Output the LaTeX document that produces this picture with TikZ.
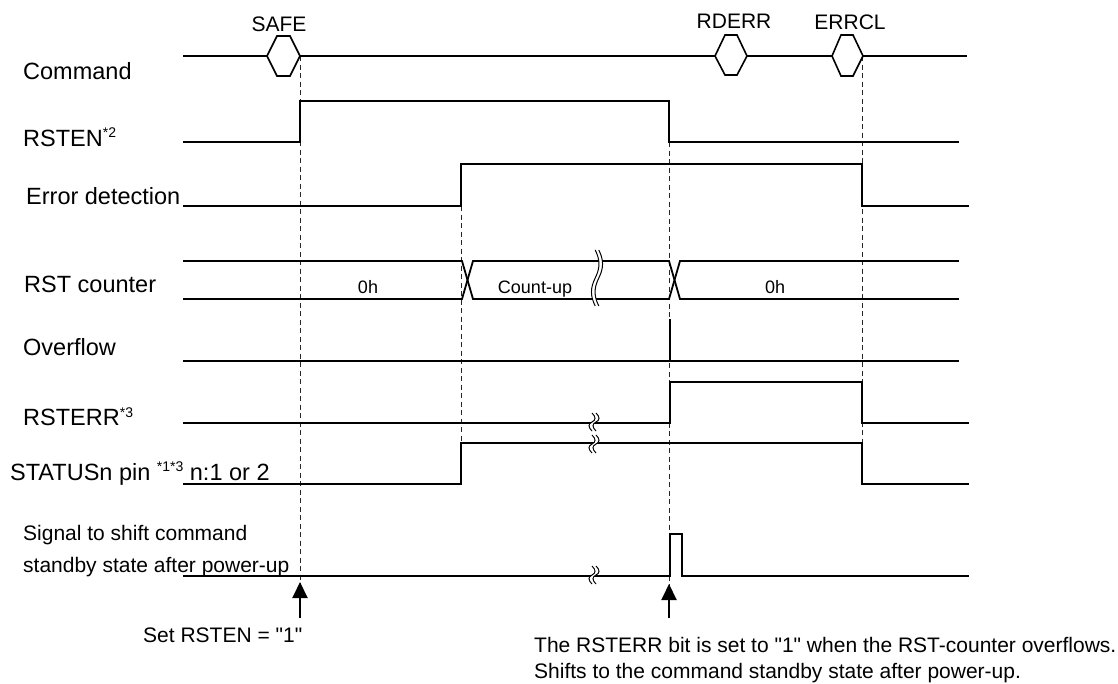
\documentclass[tikz,border=0pt]{standalone}
\usepackage{fontspec}
\setmainfont{Liberation Sans}[Ligatures=TeXOff]
\usetikzlibrary{arrows.meta}
\begin{document}
\begin{tikzpicture}[x=1pt,y=-1pt,
  sig/.style={line width=1.8pt, line join=miter, line cap=rect},
  hexs/.style={line width=1.6pt, line join=miter},
  guide/.style={line width=1pt, dash pattern=on 5pt off 3.5pt, black!85},
  lbl/.style={anchor=base west, inner sep=0pt, font=\fontsize{23.5}{28}\selectfont},
  cmdlbl/.style={anchor=base, inner sep=0pt, font=\fontsize{21}{25}\selectfont},
  val/.style={anchor=base, inner sep=0pt, font=\fontsize{18}{22}\selectfont},
  note/.style={anchor=base west, inner sep=0pt, font=\fontsize{21}{25}\selectfont},
  upar/.style={-{Triangle[width=15pt,length=16pt]}, line width=2pt},
  brksmall/.pic={
    \fill[white] (-2,-9) .. controls (2,-5) and (2,-2) .. (-2,0) .. controls (-6,2) and (-6,5) .. (-2,9)
      -- (2,9) .. controls (-2,5) and (-2,2) .. (2,0) .. controls (6,-2) and (6,-5) .. (2,-9) -- cycle;
    \draw[line width=1pt] (-2,-9) .. controls (2,-5) and (2,-2) .. (-2,0) .. controls (-6,2) and (-6,5) .. (-2,9);
    \draw[line width=1pt] (2,-9) .. controls (6,-5) and (6,-2) .. (2,0) .. controls (-2,2) and (-2,5) .. (2,9);
  },
  brktall/.pic={
    \fill[white] (-1.8,-28) .. controls (3.2,-18) and (3.2,-10) .. (-1.8,0) .. controls (-6.8,10) and (-6.8,18) .. (-1.8,28)
      -- (1.8,28) .. controls (-3.2,18) and (-3.2,10) .. (1.8,0) .. controls (6.8,-10) and (6.8,-18) .. (1.8,-28) -- cycle;
    \draw[line width=1pt] (-1.8,-28) .. controls (3.2,-18) and (3.2,-10) .. (-1.8,0) .. controls (-6.8,10) and (-6.8,18) .. (-1.8,28);
    \draw[line width=1pt] (1.8,-28) .. controls (6.8,-18) and (6.8,-10) .. (1.8,0) .. controls (-3.2,10) and (-3.2,18) .. (1.8,28);
  }
]
\useasboundingbox (0,0) rectangle (1118,683);

% ---------- labels ----------
\node[lbl] (lcmd) at (23,79) {Command};
\node[lbl] (lrsten) at (23,146) {RSTEN\raisebox{9pt}{\fontsize{14}{14}\selectfont *2}};
\node[lbl] (lerr) at (26,204) {Error detection};
\node[lbl] (lrst) at (24,292) {RST counter};
\node[lbl] (lovf) at (23,355) {Overflow};
\node[lbl] (lrsterr) at (23,425) {RSTERR\raisebox{8pt}{\fontsize{14}{14}\selectfont *3}};
\node[lbl] (lstat) at (10,480) {STATUSn pin \raisebox{9pt}{\fontsize{14}{14}\selectfont *1*3} n:1 or 2};
\node[note] (lsig1) at (23,540) {Signal to shift command};
\node[note] (lsig2) at (23,572) {standby state after power-up};

\node[note] (nset) at (143,642) {Set RSTEN = "1"};
\node[note] (nov1) at (534,652) {The RSTERR bit is set to "1" when the RST-counter overflows.};
\node[note] (nov2) at (534,678) {Shifts to the command standby state after power-up.};

% ---------- guide lines ----------
\coordinate (g1t) at (300,56);  \coordinate (g1b) at (300,584);
\coordinate (g2t) at (461,206); \coordinate (g2b) at (461,443);
\coordinate (g3t) at (669,142); \coordinate (g3b) at (669,586);
\coordinate (g4t) at (862,56);  \coordinate (g4b) at (862,443);
\draw[guide] (g1t) -- (g1b);
\draw[guide] (g2t) -- (g2b);
\draw[guide] (g3t) -- (g3b);
\draw[guide] (g4t) -- (g4b);

% ---------- Command ----------
\draw[sig] (184,56) -- (267,56);
\draw[hexs] (267,56) -- (277,36) -- (290,36) -- (300,56) -- (290,76) -- (277,76) -- cycle;
\draw[sig] (300,56) -- (715,56);
\draw[hexs] (715,56) -- (725,35) -- (737,35) -- (747,56) -- (737,75) -- (725,75) -- cycle;
\draw[sig] (747,56) -- (832,56);
\draw[hexs] (832,56) -- (841,35) -- (853,35) -- (863,56) -- (853,76) -- (841,76) -- cycle;
\draw[sig] (863,56) -- (966,56);
\node[cmdlbl] (csafe) at (279,31) {SAFE};
\node[cmdlbl] (crderr) at (734,28) {RDERR};
\node[cmdlbl] (cerrcl) at (850,29) {ERRCL};

% ---------- RSTEN ----------
\draw[sig] (184,142) -- (300,142) -- (300,101) -- (669,101) -- (669,142) -- (958,142);

% ---------- Error detection ----------
\draw[sig] (184,206) -- (461,206) -- (461,164) -- (862,164) -- (862,206) -- (968,206);

% ---------- RST counter ----------
\draw[sig] (184,261) -- (462,261) -- (473,299) -- (669,299) -- (680,261) -- (958,261);
\draw[sig] (184,299) -- (462,299) -- (473,261) -- (669,261) -- (680,299) -- (958,299);
\pic at (597,278) {brktall};
\node[val] (v0a) at (368,293) {0h};
\node[val] (vcu) at (535,293) {Count-up};
\node[val] (v0b) at (775,293) {0h};

% ---------- Overflow ----------
\draw[sig] (184,361) -- (958,361);
\draw[sig] (670,320) -- (670,361);

% ---------- RSTERR ----------
\draw[sig] (184,423) -- (670,423) -- (670,382) -- (862,382) -- (862,423) -- (968,423);
\pic at (594,422) {brksmall};

% ---------- STATUSn ----------
\draw[sig] (184,484) -- (461,484) -- (461,443) -- (862,443) -- (862,484) -- (968,484);
\pic at (594,444) {brksmall};

% ---------- Signal ----------
\draw[sig] (184,576) -- (670,576) -- (670,534) -- (682,534) -- (682,576) -- (968,576);
\pic at (594,575) {brksmall};

% ---------- arrows ----------
\coordinate (a1s) at (300,618); \coordinate (a1e) at (300,582);
\coordinate (a2s) at (669,618); \coordinate (a2e) at (669,584);
\draw[upar] (a1s) -- (a1e);
\draw[upar] (a2s) -- (a2e);
\end{tikzpicture}
\end{document}
